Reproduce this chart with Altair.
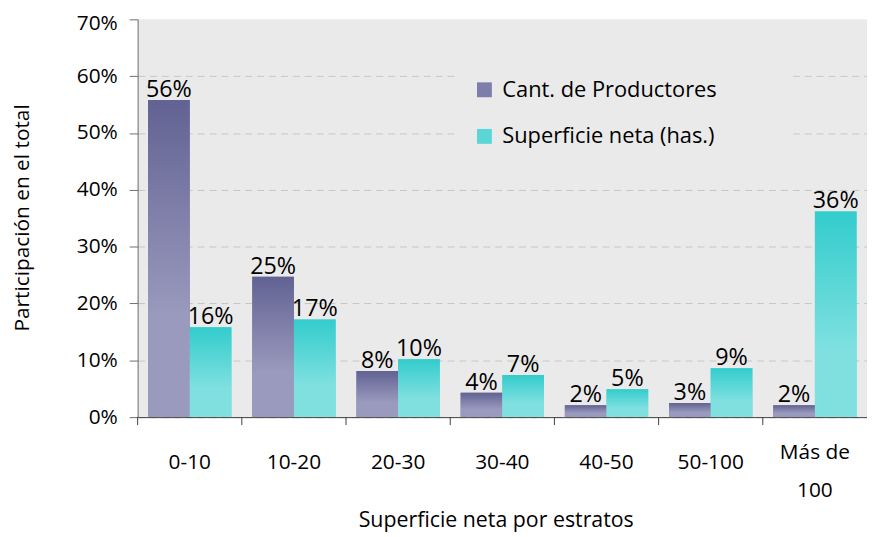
import altair as alt
import pandas as pd

# ---- data ----
categories = ["0-10", "10-20", "20-30", "30-40", "40-50", "50-100", "Más de 100"]
series = ["Cant. de Productores", "Superficie neta (has.)"]
productores = [0.558, 0.247, 0.081, 0.043, 0.021, 0.025, 0.021]
superficie = [0.158, 0.172, 0.102, 0.074, 0.049, 0.086, 0.362]
y_ticks = [0.0, 0.1, 0.2, 0.3, 0.4, 0.5, 0.6, 0.7]

rows = []
for c, p, s in zip(categories, productores, superficie):
    rows.append({"estrato": c, "serie": series[0], "valor": p})
    rows.append({"estrato": c, "serie": series[1], "valor": s})
df = pd.DataFrame(rows)

FONT = "Open Sans"
PAD_L, PAD_T = 130.7, 9.3
W = 866 - PAD_L
H = 401
PAD_B = 528 - PAD_T - H
STEP = W / 7

PURPLE_TOP, PURPLE_BOT = "#626293", "#9A9ABE"
TEAL_TOP, TEAL_BOT = "#33CCCC", "#80E0E0"


def grad(top, bottom):
    return alt.Gradient(
        gradient="linear", x1=0, x2=0, y1=0, y2=1,
        stops=[alt.GradientStop(offset=0, color=top),
               alt.GradientStop(offset=0.68, color=bottom),
               alt.GradientStop(offset=1, color=bottom)],
    )


x_enc = alt.X(
    "estrato:N", sort=categories,
    scale=alt.Scale(paddingInner=0.2, paddingOuter=0.1),
    axis=alt.Axis(
        title="Superficie neta por estratos", ticks=False, tickSize=0,
        labelPadding={"condition": {"test": "datum.value == 'Más de 100'", "value": 25},
                      "value": 35},
        labelFontSize=21, labelLineHeight=38, labelAngle=0,
        labelOverlap=False, labelLimit=300,
        labelExpr="datum.label == 'Más de 100' ? ['Más de', '100'] : datum.label",
        domainColor="#404040", grid=False,
        titleFontSize=21.5, titleX=361, titleY=110.7, titleBaseline="alphabetic",
    ),
)
xo_enc = alt.XOffset("serie:N", scale=alt.Scale(domain=series, paddingInner=0, paddingOuter=0))
y_enc = alt.Y(
    "valor:Q",
    scale=alt.Scale(domain=[0, 0.7], nice=False, zero=True),
    axis=alt.Axis(
        values=y_ticks, format=".0%", labelFontSize=21, labelPadding=12,
        labelOffset={"condition": {"test": "datum.value >= 0.69", "value": 4}, "value": 0},
        tickSize=8.5, tickColor="#6E6E6E", domainColor="#6E6E6E",
        grid=True, gridDash=[7, 5],
        gridColor={"condition": {"test": "datum.value >= 0.69", "value": "transparent"},
                   "value": "#C6C6C6"},
        title="Participación en el total", titleFontSize=21,
        titleX=-116.2, titleY=199.7, titleBaseline="middle",
    ),
)

base = alt.Chart(df)

bars_legend = base.mark_bar().encode(
    x=x_enc, xOffset=xo_enc, y=y_enc,
    color=alt.Color(
        "serie:N",
        scale=alt.Scale(domain=series, range=["#7E7EAA", "#5AD6D6"]),
        legend=alt.Legend(
            orient="none", legendX=338.6, legendY=60, title=None,
            symbolType="square", symbolSize=225, symbolStrokeWidth=0,
            labelFont=FONT, labelFontSize=22, labelColor="black", labelLimit=400,
            labelOffset=7, rowPadding=25, padding=0,
        ),
    ),
)

bars_p = base.transform_filter(alt.datum.serie == series[0]).mark_bar(
    color=grad(PURPLE_TOP, PURPLE_BOT)
).encode(x=alt.X("estrato:N", sort=categories), xOffset=xo_enc, y=alt.Y("valor:Q"))

bars_s = base.transform_filter(alt.datum.serie == series[1]).mark_bar(
    color=grad(TEAL_TOP, TEAL_BOT)
).encode(x=alt.X("estrato:N", sort=categories), xOffset=xo_enc, y=alt.Y("valor:Q"))

legend_bg = alt.Chart(pd.DataFrame({"k": [0]})).mark_rect(color="#EAEAEA").encode(
    x=alt.value(324), x2=alt.value(661), y=alt.value(43), y2=alt.value(148)
)

labels = base.mark_text(
    baseline="alphabetic", dy=-3, fontSize=23.5, font=FONT, color="black"
).encode(
    x=alt.X("estrato:N", sort=categories), xOffset=xo_enc, y=alt.Y("valor:Q"),
    text=alt.Text("valor:Q", format=".0%"),
)

ticks = alt.Chart(pd.DataFrame({"estrato": categories})).mark_rule(
    color="#404040", xOffset=-STEP * 0.1
).encode(
    x=alt.X("estrato:N", sort=categories, bandPosition=0),
    y=alt.value(H), y2=alt.value(H + 8),
)

chart = alt.layer(bars_legend, bars_p, bars_s, legend_bg, labels, ticks).properties(
    width=W, height=H,
    autosize=alt.AutoSizeParams(type="none"),
    padding={"left": PAD_L, "top": PAD_T, "right": 0, "bottom": PAD_B},
).configure_view(
    fill="#EAEAEA", strokeWidth=0
).configure_axis(
    labelFont=FONT, titleFont=FONT, labelColor="black", titleColor="black",
    titleFontWeight="normal",
)

chart.save("out.html", embed_options={"renderer": "svg", "actions": False})
